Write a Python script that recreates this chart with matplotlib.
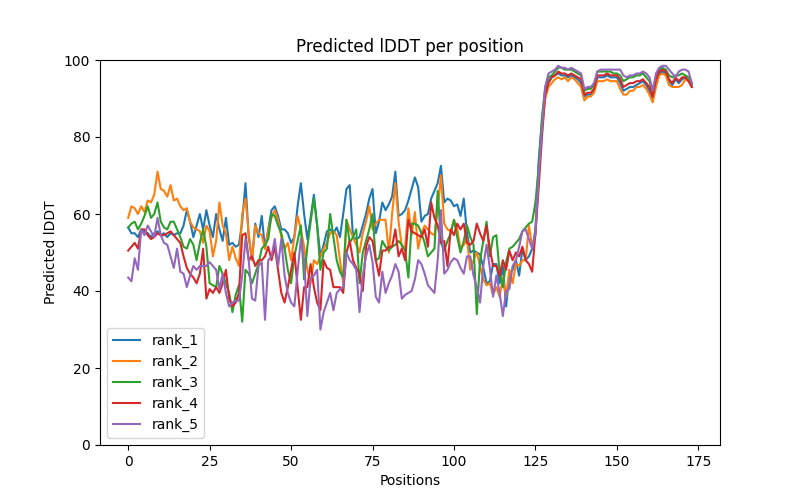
import numpy as np
import matplotlib
matplotlib.use("Agg")
import matplotlib.pyplot as plt

# ==========================================
# 1. pLDDT per position
# ==========================================
positions = np.arange(174)
labels = ["rank_1", "rank_2", "rank_3", "rank_4", "rank_5"]

rank_1 = [
    56.5, 55, 55, 54, 56, 55.5, 55, 54, 55, 55.5,
    54.5, 55, 54, 55, 54.5, 55, 55, 57, 61, 58,
    54, 57, 60, 56, 61, 57, 54, 60, 56, 53,
    59, 52, 52.5, 51.5, 52, 58, 68, 54, 48, 57.5,
    54, 59.5, 51, 56, 61, 62, 59.5, 56, 56, 55,
    52.5, 54, 62, 68, 60, 53.5, 59, 65, 57, 49,
    52, 55.5, 56, 55, 56.5, 54, 60, 66.5, 67.5, 54,
    53.5, 54, 57, 60, 64, 66.5, 55, 58, 63, 61,
    62.5, 64.5, 71, 59.5, 60, 61, 63.5, 66.5, 69.5, 67,
    58, 59.5, 60, 64, 66, 68, 72.5, 63, 64, 63.5,
    62, 62.5, 59.5, 64, 55, 50, 50.5, 50, 49.5, 46,
    42, 42.5, 47, 47, 42, 46.5, 36, 44.5, 45.5, 48,
    44, 51, 48, 49, 51, 56, 74,
    84, 92, 94.5, 95.5, 96, 96.5, 96, 96, 95.5, 96,
    95.5, 95, 94, 90.5, 91, 91, 92, 95.5, 95.5, 95.5,
    96, 95.5, 95.5, 95.5, 94, 92, 92.5, 93, 93, 93.5,
    94, 94.5, 93.5, 92, 90, 94, 96.5, 97, 96.5, 94.5,
    93.5, 95, 94, 95, 95.5, 94.5, 93.5,
]

rank_2 = [
    59, 62, 61.5, 60, 62, 60.5, 63.5, 63, 65, 71,
    66.5, 66, 64.5, 67.5, 63.5, 64, 62, 61, 61.5, 58,
    56.5, 56, 55.5, 52.5, 57, 55.5, 49, 53, 63, 57,
    55, 48, 51.5, 48.5, 46.5, 60, 64, 55, 48, 57,
    55, 54.5, 51, 56, 59, 61, 58.5, 54, 51, 52.5,
    48, 54, 59.5, 56, 51.5, 45.5, 42, 48, 47, 49,
    51, 52.5, 55, 55.5, 54.5, 48, 42, 58.5, 56, 54,
    52, 50, 55, 58, 62, 56, 57.5, 58.5, 58.5, 58.5,
    50, 60, 68, 58, 51.5, 51.5, 61.5, 54.5, 60.5, 51,
    55, 57, 56, 55, 54.5, 61, 70, 57.5, 56, 55.5,
    58.5, 56, 51, 52, 53.5, 45.5, 48, 50, 46.5, 43,
    41.5, 42, 39, 41, 38.5, 43.5, 38.5, 45.5, 42, 47,
    46.5, 48, 48, 57, 51.5, 54.5, 70,
    82, 90, 93, 94, 95, 95.5, 95, 95.5, 94.5, 95.5,
    95, 94, 93, 89.5, 90.5, 90.5, 91.5, 94.5, 94.5, 94.5,
    95, 94.5, 94.5, 94.5, 92.5, 91, 91, 92, 92, 93,
    93, 93.5, 92.5, 91, 89, 93, 96, 96.5, 96, 93.5,
    93, 93, 93, 93.5, 95, 94.5, 93,
]

rank_3 = [
    56.5, 57.5, 58, 56, 57.5, 59.5, 62, 59, 60, 63,
    58, 56.5, 56, 58, 58, 56, 54, 51.5, 51, 53.5,
    52, 48, 52.5, 56, 51.5, 42, 41.5, 41, 46.5, 44.5,
    42, 39.5, 34.5, 39, 41.5, 32, 45.5, 44.5, 42, 44.5,
    47, 51, 52, 53.5, 60, 59.5, 57, 55, 51, 45.5,
    42, 49, 53, 57, 43, 51.5, 58, 64, 57, 45.5,
    50, 51, 60, 54, 48, 45, 43.5, 58.5, 52.5, 54,
    56, 42, 50, 53, 56, 60, 48, 48.5, 53, 51.5,
    50.5, 51.5, 52, 53, 52, 50.5, 43.5, 57.5, 57.5, 57,
    55, 52.5, 49, 50, 51, 66, 52.5, 50.5, 53, 55,
    58.5, 54, 50, 53, 57, 54, 52, 34, 48, 53,
    58, 49, 54, 54.5, 45, 41, 47.5, 51, 51.5, 52.5,
    53.5, 55.5, 56.5, 57.5, 58, 63, 72,
    85, 93, 95.5, 96, 97, 98, 98, 97.5, 97.5, 97.5,
    97, 96.5, 96, 92, 92.5, 92.5, 93.5, 97, 97, 97,
    97, 97, 96.5, 96.5, 96, 94.5, 95, 95.5, 95.5, 96,
    96, 96.5, 95.5, 94.5, 91.5, 95.5, 97.5, 98, 97.5, 96,
    95.5, 96, 96, 96.5, 96, 95.5, 94,
]

rank_4 = [
    50.5, 51.5, 52.5, 51, 56, 56, 54.5, 53.5, 54, 55,
    54.5, 54.5, 55, 55.5, 54.5, 53.5, 52.5, 49, 46, 44.5,
    43.5, 42, 44.5, 51, 38, 40.5, 39.5, 41, 39.5, 42,
    45.5, 38, 36, 37, 39.5, 54.5, 55, 48, 49, 46.5,
    48, 48, 49, 51.5, 48, 51.5, 45.5, 39.5, 37, 41,
    45.5, 50, 41, 32.5, 41, 41, 47, 41, 37, 35,
    48, 46, 45.5, 41, 41, 41, 39.5, 50, 53, 48,
    46, 44.5, 40, 51.5, 54, 53, 48, 44, 50.5, 50.5,
    51.5, 51.5, 56, 49, 51, 48, 58.5, 55.5, 55, 54.5,
    54, 56, 51.5, 63, 59, 57, 52.5, 53, 46.5, 56,
    54.5, 57.5, 56, 57.5, 52.5, 52, 53, 57.5, 55, 53,
    57, 51, 46.5, 46.5, 44, 48, 45.5, 50.5, 48, 50,
    49, 51.5, 48, 47, 45, 55, 67,
    80, 91, 94, 95.5, 96, 97, 96.5, 96.5, 96, 96.5,
    96, 95.5, 95, 91, 91.5, 91.5, 92.5, 96, 96, 96,
    96.5, 96, 96, 96, 95, 93, 93.5, 94, 94, 94.5,
    94.5, 95, 94, 93, 90.5, 95, 97, 97.5, 97, 95,
    94, 95.5, 94.5, 95.5, 95.5, 94.5, 93,
]

rank_5 = [
    43.5, 42.5, 48.5, 45.5, 56, 54.5, 57, 55.5, 54, 59,
    54.5, 52.5, 52, 49, 46, 51, 45, 44.5, 41, 44,
    46.5, 45.5, 46.5, 46.5, 46.5, 47.5, 46.5, 45.5, 40.5, 44.5,
    39.5, 36, 37, 37.5, 37.5, 44, 53.5, 48, 38, 37.5,
    46.5, 47.5, 32.5, 48, 49, 53.5, 46.5, 53.5, 44, 39.5,
    37, 36, 45, 53.5, 48, 33.5, 43.5, 44, 45.5, 30,
    34.5, 37, 39.5, 35, 39.5, 40.5, 41, 50, 48, 47,
    45.5, 34.5, 44, 49, 52, 47.5, 38.5, 37, 45, 39.5,
    42, 44, 47, 45, 38, 39, 39.5, 40, 43, 48,
    47, 44.5, 41.5, 40.5, 39.5, 48, 61, 44.5, 45.5, 47.5,
    48.5, 48, 46, 44.5, 49, 49, 44, 41, 37, 46.5,
    52, 46, 38.5, 44, 39.5, 33.5, 40, 40.5, 46.5, 48,
    51.5, 55.5, 56, 53.5, 51, 55, 70,
    82, 93, 96.5, 97, 97.5, 98.5, 98, 98, 97.5, 98,
    97.5, 97, 96.5, 92.5, 93, 93, 94, 97, 97.5, 97.5,
    97.5, 97.5, 97.5, 97.5, 97.5, 96, 95.5, 96, 96, 96.5,
    96.5, 97, 96.5, 95.5, 92, 96.5, 98, 98.5, 98.5, 97.5,
    96.5, 95.5, 97, 97.5, 97.5, 97, 94,
]

series = [rank_1, rank_2, rank_3, rank_4, rank_5]

# ==========================================
# 2. 描画
# ==========================================
fig = plt.figure(figsize=(8, 5), dpi=100)
ax = fig.add_subplot(111)

for vals, lab in zip(series, labels):
    ax.plot(positions, vals, label=lab)

ax.set_ylim(0, 100)
ax.set_title("Predicted lDDT per position")
ax.set_xlabel("Positions")
ax.set_ylabel("Predicted lDDT")
ax.legend(loc="lower left")

fig.savefig("out.png", dpi=100)
